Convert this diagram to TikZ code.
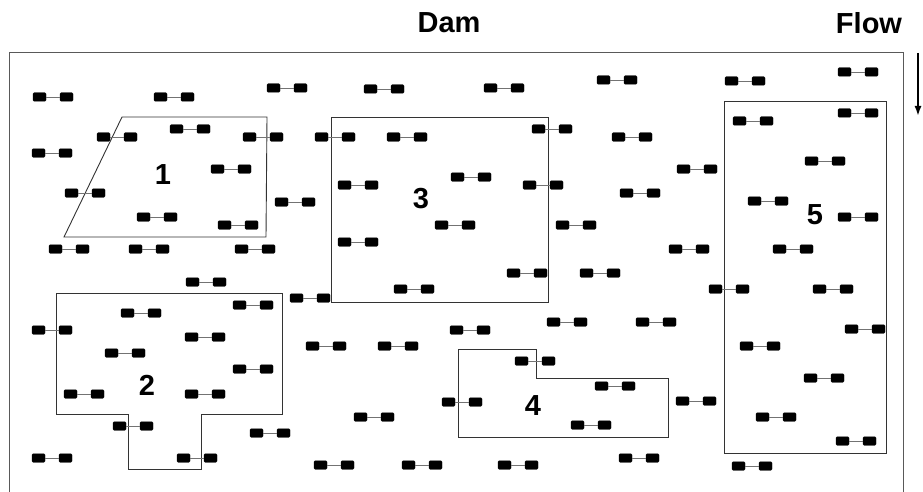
\documentclass[tikz,border=0pt]{standalone}
\usepackage{fontspec}
\setmainfont{Liberation Sans}
\usetikzlibrary{arrows.meta}
\begin{document}
\begin{tikzpicture}[x=1pt,y=-1pt,
  blk/.style={draw=black,fill=black,rounded corners=1.2pt,minimum width=13pt,minimum height=8.5pt,inner sep=0pt},
  link/.style={draw=black!55,line width=0.8pt},
  zone/.style={draw=black!80,line width=0.9pt},
  frame/.style={draw=black!65,line width=1pt},
  lbl/.style={font=\fontsize{29}{30}\selectfont\bfseries,inner sep=0pt}]
\useasboundingbox (0,0) rectangle (923,492);
% outer frame
\draw[frame] (9,492) -- (9,53) -- (903,53) -- (903,492);
% titles
\node[lbl] (dam) at (449,22.5) {Dam};
\node[lbl] (flow) at (869,23) {Flow};
\coordinate (fa) at (918,53);
\coordinate (fb) at (918,116);
\draw[line width=1.8pt,-{Latex[length=10pt,width=7pt]}] (fa) -- (fb);
% zones
\draw[zone] (122,117) -- (267,117) -- (266,237) -- (64,237) -- cycle;
\draw[zone] (56,293) -- (282,293) -- (282,414) -- (201,414) -- (201,469) -- (128,469) -- (128,414) -- (56,414) -- cycle;
\draw[zone] (331,117) -- (548,117) -- (548,302) -- (331,302) -- cycle;
\draw[zone] (458,349) -- (536,349) -- (536,378) -- (668,378) -- (668,437) -- (458,437) -- cycle;
\draw[zone] (724,101) -- (886,101) -- (886,453) -- (724,453) -- cycle;
% zone numbers
\node[lbl] (n1) at (163,174.5) {1};
\node[lbl] (n2) at (147,385) {2};
\node[lbl] (n3) at (421,198.5) {3};
\node[lbl] (n4) at (533,406) {4};
\node[lbl] (n5) at (815,215) {5};
% dumbbells
\foreach \cx/\cy [count=\i] in {
 53/97,174/97,287/88,384/89,504/88,617/80,745/81,858/72,
 190/129,117/137,263/137,52/153,231/169,85/193,295/202,157/217,238/225,69/249,149/249,255/249,
 335/137,407/137,552/129,632/137,358/185,471/177,543/185,455/225,576/225,358/242,
 858/113,753/121,825/161,697/169,640/193,768/201,858/217,689/249,793/249,
 206/282,253/305,310/298,141/313,52/330,205/337,125/353,253/369,84/394,205/394,133/426,270/433,52/458,197/458,
 527/273,600/273,414/289,567/322,470/330,326/346,398/346,535/361,615/386,462/402,374/417,591/425,334/465,422/465,518/465,
 729/289,833/289,656/322,865/329,760/346,824/378,696/401,776/417,856/441,639/458,752/466}
{
  \node[blk] (d\i l) at (\cx-13.5,\cy) {};
  \node[blk] (d\i r) at (\cx+13.5,\cy) {};
  \draw[link] (d\i l) -- (d\i r);
}
\end{tikzpicture}
\end{document}
